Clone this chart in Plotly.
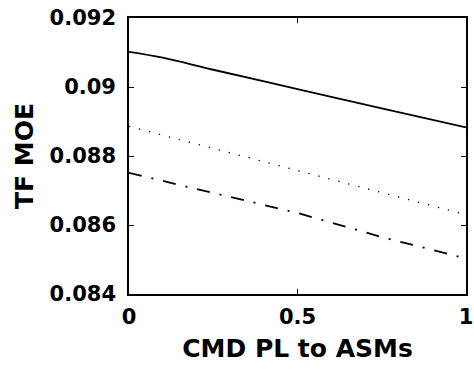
import plotly.graph_objects as go

x_vals = [0, 0.1, 0.25, 0.5, 0.75, 1]
solid_vals = [0.09102, 0.09085, 0.09050, 0.08994, 0.08938, 0.08883]
dotted_vals = [0.08886, 0.08860, 0.08822, 0.08758, 0.08694, 0.08630]
dashdot_vals = [0.08751, 0.08728, 0.08692, 0.08635, 0.08565, 0.08503]

y_ticks = [0.084, 0.086, 0.088, 0.090, 0.092]
y_ticktext = ["0.084", "0.086", "0.088", "0.09", "0.092"]
x_ticks = [0, 0.5, 1]
x_ticktext = ["0", "0.5", "1"]

font_family = "DejaVu Sans"

fig = go.Figure()
fig.add_trace(go.Scatter(x=x_vals, y=solid_vals, mode="lines",
                         line=dict(color="black", width=1.8), line_shape="spline"))
fig.add_trace(go.Scatter(x=x_vals, y=dotted_vals, mode="lines",
                         line=dict(color="black", width=1.3, dash="1.3px,9px")))
fig.add_trace(go.Scatter(x=x_vals, y=dashdot_vals, mode="lines",
                         line=dict(color="black", width=1.8, dash="13px,10px,2px,10px")))

axis_common = dict(
    showline=True, linecolor="black", linewidth=1.6, mirror="ticks",
    ticks="inside", ticklen=5, tickcolor="black", tickwidth=1,
    showgrid=False, zeroline=False, automargin=False,
    ticklabeloverflow="allow",
    tickfont=dict(family=font_family, size=21, color="black", weight="bold"),
)

fig.update_layout(
    width=474, height=369,
    margin=dict(l=129, r=8, t=18, b=75),
    paper_bgcolor="white", plot_bgcolor="white",
    showlegend=False,
    xaxis=dict(range=[0, 1], tickvals=x_ticks, ticktext=x_ticktext,
               ticklabelstandoff=3,
               title=dict(text="CMD PL to ASMs", standoff=11,
                          font=dict(family=font_family, size=25, color="black", weight="bold")),
               **axis_common),
    yaxis=dict(range=[0.084, 0.092], tickvals=y_ticks, ticktext=y_ticktext,
               ticklabelstandoff=7,
               title=dict(text="TF MOE", standoff=9,
                          font=dict(family=font_family, size=25, color="black", weight="bold")),
               **axis_common),
)

fig.write_html("out.html", config={"displayModeBar": False},
               post_script="document.body.style.margin='0';")
